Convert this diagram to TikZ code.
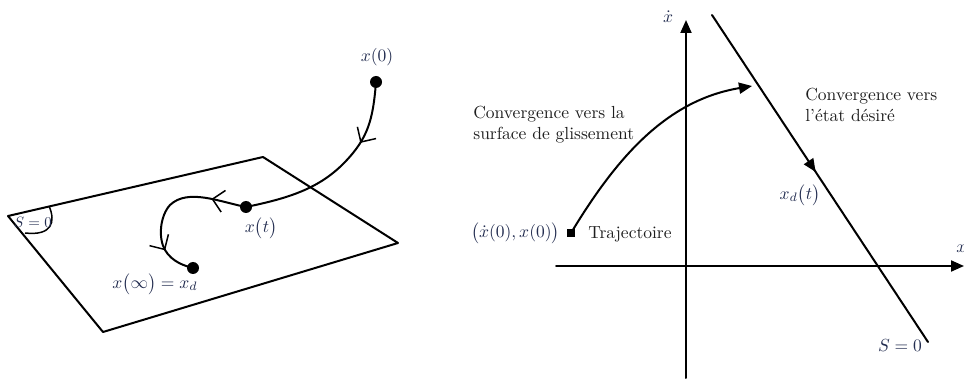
\documentclass[tikz,border=0pt]{standalone}
\usepackage{fontspec}
\usetikzlibrary{arrows.meta,decorations.markings}
\definecolor{mathc}{RGB}{35,45,80}
\definecolor{txtc}{RGB}{30,30,30}
\begin{document}
\begin{tikzpicture}[x=1pt,y=-1pt,
  every node/.style={inner sep=0pt},
  mlbl/.style={text=mathc, scale=1.75},
  tlbl/.style={text=txtc, align=left, scale=1.75},
  line/.style={line width=2pt, line join=round, line cap=round},
  thin line/.style={line width=1.5pt},
  dot/.style={circle, fill=black, inner sep=0pt, minimum size=12pt},
  sq/.style={rectangle, fill=black, inner sep=0pt, minimum size=8pt},
  barb/.style={-, line width=1.5pt},
  axis/.style={line, -{Triangle[length=13pt,width=11pt]}},
]
\useasboundingbox (0,0) rectangle (964,379);

% ---------------- left: sliding plane ----------------
\coordinate (pA) at (8,216);
\coordinate (pB) at (263,157);
\coordinate (pC) at (398,243);
\coordinate (pD) at (103,332);
\draw[line] (pA) -- (pB) -- (pC) -- (pD) -- cycle;

\coordinate (sa1) at (49,206);
\coordinate (sa2) at (25,233);
\draw[thin line] (sa1) .. controls (56,222) and (52,236) .. (sa2);
\node[text=mathc, scale=1.5] (S0l) at (33,222) {$S=0$};

\node[dot] (x0) at (376,82) {};
\node[dot] (xt) at (246,207) {};
\node[dot] (xinf) at (193,268) {};

\draw[line, postaction={decorate}, decoration={markings,
    mark=at position 0.32 with {\arrow[barb]{Straight Barb[length=11pt,width=22pt]}}}]
  (x0.center) .. controls (373,120) and (368,138) .. (345,162)
  .. controls (320,188) and (290,198) .. (xt.center);

\draw[line, postaction={decorate}, decoration={markings,
    mark=at position 0.22 with {\arrow[barb]{Straight Barb[length=11pt,width=22pt]}},
    mark=at position 0.79 with {\arrow[barb]{Straight Barb[length=11pt,width=22pt]}}}]
  (xt.center) .. controls (220,202) and (188,188) .. (170,205)
  .. controls (160,216) and (158,238) .. (165,250)
  .. controls (172,262) and (185,266) .. (xinf.center);

\node[mlbl] (lx0) at (377,57) {$x(0)$};
\node[mlbl] (lxt) at (261,228) {$x\bigl(t\bigr)$};
\node[mlbl] (lxinf) at (155,284) {$x\bigl(\infty\bigr)=x_d$};

% ---------------- right: phase plane ----------------
\coordinate (vb) at (686,378);
\coordinate (vt) at (686,20);
\coordinate (hl) at (556,266);
\coordinate (hr) at (964,266);
\draw[axis] (vb) -- (vt);
\draw[axis] (hl) -- (hr);
\node[mlbl] (ldx) at (668,17) {$\dot{x}$};
\node[mlbl, anchor=west] (lx) at (956,249) {$x$};

\coordinate (s1) at (712,15);
\coordinate (s2) at (928,342);
\draw[line, postaction={decorate}, decoration={markings,
    mark=at position 0.48 with {\arrow{Triangle[length=13pt,width=11pt]}}}]
  (s1) -- (s2);
\node[mlbl] (lS0) at (900,346) {$S=0$};
\node[mlbl] (lxd) at (800,195) {$x_d\bigl(t\bigr)$};

\node[sq] (st) at (571,233) {};
\coordinate (hit) at (752,86);
\draw[line, -{Triangle[length=13pt,width=11pt]}]
  (st.center) .. controls (618,155) and (668,100) .. (hit);

\node[mlbl, anchor=east] (lst) at (560,233) {$\bigl(\dot{x}(0),x(0)\bigr)$};
\node[tlbl, anchor=west] (ltraj) at (588,234) {Trajectoire};
\node[tlbl, anchor=west] (lconv1) at (473,125) {Convergence vers la\\surface de glissement};
\node[tlbl, anchor=west] (lconv2) at (805,105) {Convergence vers\\l'état désiré};
\end{tikzpicture}
\end{document}
